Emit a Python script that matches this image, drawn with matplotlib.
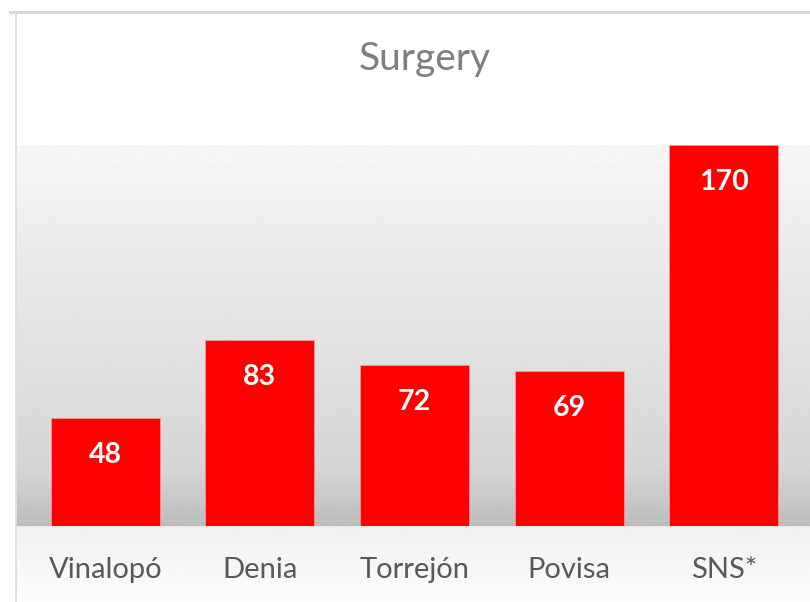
import matplotlib
matplotlib.use("Agg")
import matplotlib.pyplot as plt
from matplotlib.lines import Line2D
import numpy as np

categories = ["Vinalopó", "Denia", "Torrejón", "Povisa", "SNS*"]
values = [48, 83, 72, 69, 170]

W, H = 810, 602
plt.rcParams['font.family'] = ['Lato', 'DejaVu Sans']

fig = plt.figure(figsize=(W / 100, H / 100), dpi=100)
fig.patch.set_facecolor("white")

# chart frame (top and left edges)
fig.add_artist(Line2D([10 / W, 1], [1 - 11.5 / H, 1 - 11.5 / H], color="#d9d9d9", lw=2.2))
fig.add_artist(Line2D([16 / W, 16 / W], [0, 1 - 11.5 / H], color="#d9d9d9", lw=1.2))

# plot area background: grey gradient with a floor shadow below the bars
bg = fig.add_axes([17 / W, 0, 1 - 17 / W, 1 - 145 / H])
bg.set_axis_off()
ys = np.linspace(145, 602, 458)
shade = np.where(
    ys < 470, 0.965 - (ys - 145) / (470 - 145) * 0.13,
    np.where(ys < 527, 0.835 - (ys - 470) / 57 * 0.10,
             0.94 + (ys - 527) / 75 * 0.05))
img = np.repeat(shade[:, None], 2, axis=1)
bg.imshow(img, cmap="gray", vmin=0, vmax=1, aspect="auto",
          extent=[0, 1, 0, 1], interpolation="bilinear")
bg.set_xlim(0, 1)
bg.set_ylim(0, 1)

ax = fig.add_axes([28 / W, (H - 526) / H, (801 - 28) / W, (526 - 145) / H])
ax.patch.set_alpha(0)
x = np.arange(len(categories))
ax.bar(x, values, width=0.705, color="#ff0000", edgecolor="#f4a0a0", linewidth=0.5)
ax.set_xlim(-0.5, len(categories) - 0.5)
ax.set_ylim(0, 170)
for s in ax.spines.values():
    s.set_visible(False)
ax.set_yticks([])
ax.set_xticks(x)
ax.set_xticklabels(categories, fontsize=21, color="#595959")
ax.tick_params(axis="x", length=0, pad=22)

for xi, v in zip(x, values):
    ax.annotate(str(v), (xi, v), xytext=(0, -37), textcoords="offset pixels",
                ha="center", va="center", color="white", fontsize=20.5,
                fontweight="bold")

fig.text(425 / W, 1 - 59 / H, "Surgery", ha="center", va="center",
         fontsize=28, color="#7f7f7f")

fig.savefig("out.png", dpi=100)
